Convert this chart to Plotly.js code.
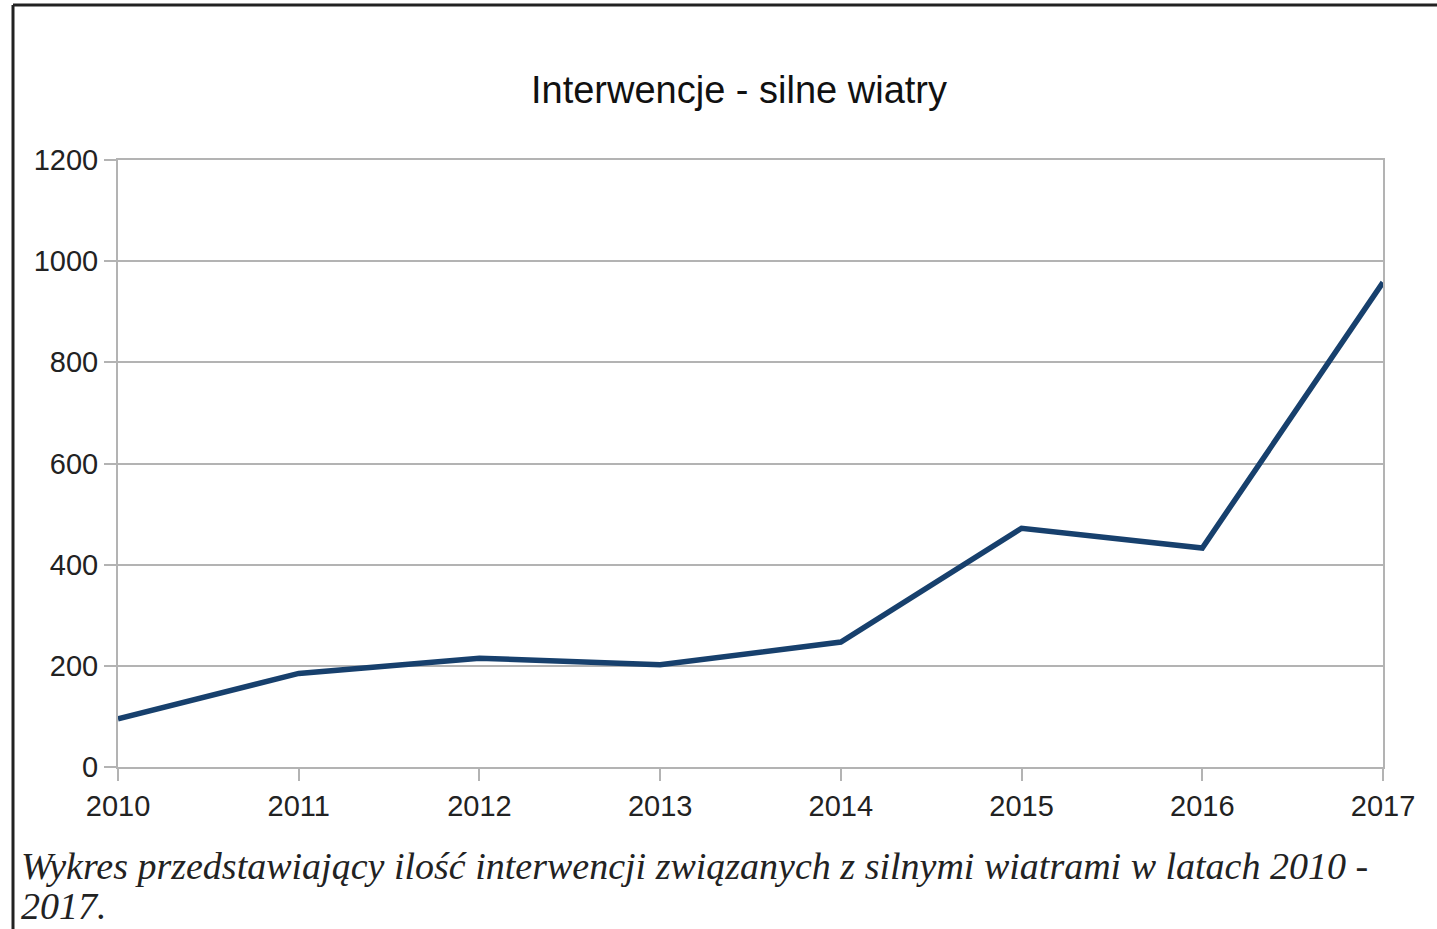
<!DOCTYPE html>
<html>
<head>
<meta charset="utf-8">
<script src="https://cdn.plot.ly/plotly-3.0.1.min.js"></script>
<style>html,body{margin:0;padding:0;background:#fff;}#chart{width:1437px;height:929px;}</style>
</head>
<body>
<div id="chart"></div>
<script>
const years = [2010, 2011, 2012, 2013, 2014, 2015, 2016, 2017];
const interventions = [95, 185, 215, 202, 247, 472, 433, 958];
const yTicks = [0, 200, 400, 600, 800, 1000, 1200];
const titleText = "Interwencje - silne wiatry";
const captionLines = ["Wykres przedstawiający ilość interwencji związanych z silnymi wiatrami w latach 2010 -", "2017."];

const trace = {
  x: years,
  y: interventions,
  type: "scatter",
  mode: "lines",
  line: {color: "#17406d", width: 5.5},
  hoverinfo: "x+y"
};

const L = 118, R = 1383, T = 160, B = 767, W = 1437, H = 929;
const px = v => (v - L) / (R - L);
const py = v => (B - v) / (B - T);

const captionY = [866, 906];

const layout = {
  width: W, height: H,
  margin: {l: L, r: W - R, t: T, b: H - B, pad: 0},
  paper_bgcolor: "#ffffff",
  plot_bgcolor: "#ffffff",
  showlegend: false,
  font: {family: "Liberation Sans, Arial, sans-serif", color: "#222", size: 29},
  title: {
    text: titleText,
    font: {family: "Liberation Sans, Arial, sans-serif", size: 38, color: "#111"},
    x: px(739), xref: "paper", xanchor: "center",
    y: 1 - 90 / H, yref: "container", yanchor: "middle"
  },
  xaxis: {
    range: [2010, 2017],
    tickvals: years,
    ticktext: years.map(String),
    showgrid: false,
    zeroline: false,
    showline: true, linecolor: "#b3b3b3", linewidth: 2, mirror: true,
    ticks: "outside", ticklen: 12, tickcolor: "#b3b3b3", tickwidth: 2,
    tickfont: {size: 29, color: "#222"}
  },
  yaxis: {
    range: [0, 1200],
    tickvals: yTicks,
    ticktext: yTicks.map(String),
    showgrid: true, gridcolor: "#b3b3b3", gridwidth: 2,
    zeroline: false,
    showline: true, linecolor: "#b3b3b3", linewidth: 2, mirror: true,
    ticks: "outside", ticklen: 12, tickcolor: "#b3b3b3", tickwidth: 2,
    tickfont: {size: 29, color: "#222"}
  },
  shapes: [
    {type: "line", xref: "paper", yref: "paper", x0: px(13), x1: px(1440), y0: py(5), y1: py(5), line: {color: "#222", width: 3}},
    {type: "line", xref: "paper", yref: "paper", x0: px(13), x1: px(13), y0: py(5), y1: py(935), line: {color: "#222", width: 3}}
  ],
  annotations: captionLines.map((t, i) => ({
    text: "<i>" + t + "</i>",
    xref: "paper", yref: "paper",
    x: px(19), y: py(captionY[i]),
    xanchor: "left", yanchor: "middle", align: "left",
    showarrow: false,
    font: {family: "Liberation Serif, Times New Roman, serif", size: 38, color: "#222"}
  }))
};

Plotly.newPlot("chart", [trace], layout, {displayModeBar: false, staticPlot: true});
</script>
</body>
</html>
